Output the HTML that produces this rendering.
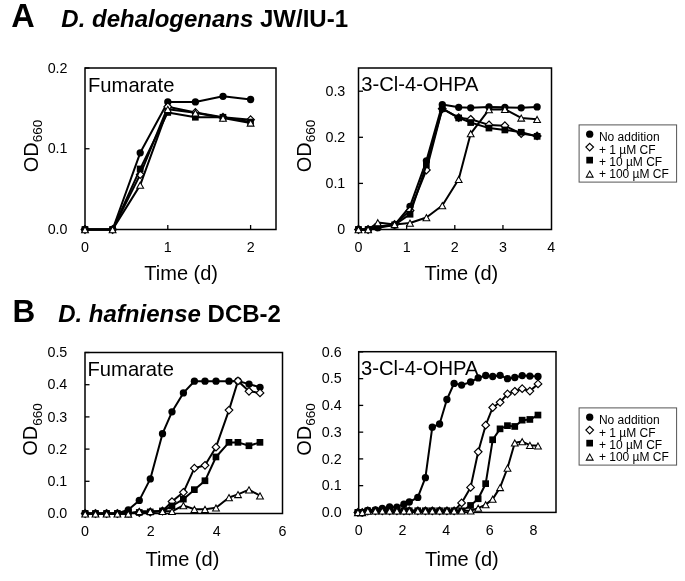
<!DOCTYPE html>
<html><head><meta charset="utf-8"><style>
html,body{margin:0;padding:0;background:#fff;width:685px;height:581px;overflow:hidden}
svg{display:block;will-change:transform}
text{font-family:"Liberation Sans", sans-serif}
</style></head><body>
<svg width="685" height="581" viewBox="0 0 685 581" font-family='"Liberation Sans", sans-serif' fill="#000"><rect width="685" height="581" fill="#fff"/><text x="11.2" y="26.6" font-size="32.5" text-anchor="start" font-weight="bold" font-style="normal" >A</text><text x="61.3" y="26.8" font-size="24.0" font-weight="bold"><tspan font-style="italic">D. dehalogenans</tspan> JW/IU-1</text><text x="12.5" y="322.3" font-size="31.5" text-anchor="start" font-weight="bold" font-style="normal" >B</text><text x="58.2" y="322.4" font-size="24.0" font-weight="bold"><tspan font-style="italic">D. hafniense</tspan> DCB-2</text><rect x="85" y="68" width="191" height="161.5" fill="none" stroke="#000" stroke-width="1.5"/><line x1="85" y1="229.5" x2="89.5" y2="229.5" stroke="#000" stroke-width="1.3"/><text transform="translate(67.5,234.2) scale(1,1.04)" font-size="14.3" text-anchor="end">0.0</text><line x1="85" y1="148.75" x2="89.5" y2="148.75" stroke="#000" stroke-width="1.3"/><text transform="translate(67.5,153.4) scale(1,1.04)" font-size="14.3" text-anchor="end">0.1</text><line x1="85" y1="68.0" x2="89.5" y2="68.0" stroke="#000" stroke-width="1.3"/><text transform="translate(67.5,72.7) scale(1,1.04)" font-size="14.3" text-anchor="end">0.2</text><line x1="85.0" y1="229.5" x2="85.0" y2="225.0" stroke="#000" stroke-width="1.3"/><text transform="translate(85.0,251.5) scale(1,1.04)" font-size="14.3" text-anchor="middle">0</text><line x1="167.8" y1="229.5" x2="167.8" y2="225.0" stroke="#000" stroke-width="1.3"/><text transform="translate(167.8,251.5) scale(1,1.04)" font-size="14.3" text-anchor="middle">1</text><line x1="250.6" y1="229.5" x2="250.6" y2="225.0" stroke="#000" stroke-width="1.3"/><text transform="translate(250.6,251.5) scale(1,1.04)" font-size="14.3" text-anchor="middle">2</text><text x="88" y="91.5" font-size="20.2" text-anchor="start" font-weight="normal" font-style="normal" >Fumarate</text><g transform="translate(37.5,146) rotate(-90)"><text x="0" y="0" font-size="20" text-anchor="middle">OD<tspan font-size="13.6" dy="4.7">660</tspan></text></g><text x="144.3" y="279.5" font-size="20" text-anchor="start" font-weight="normal" font-style="normal" >Time (d)</text><polyline points="85.0,229.5 112.6,229.5 140.2,152.8 167.8,101.9 195.4,101.9 223.0,96.3 250.6,99.5" fill="none" stroke="#000" stroke-width="2.0" stroke-linejoin="round"/><circle cx="85.0" cy="229.5" r="3.65" fill="#000"/><circle cx="112.6" cy="229.5" r="3.65" fill="#000"/><circle cx="140.2" cy="152.8" r="3.65" fill="#000"/><circle cx="167.8" cy="101.9" r="3.65" fill="#000"/><circle cx="195.4" cy="101.9" r="3.65" fill="#000"/><circle cx="223.0" cy="96.3" r="3.65" fill="#000"/><circle cx="250.6" cy="99.5" r="3.65" fill="#000"/><polyline points="85.0,229.5 112.6,229.5 140.2,174.6 167.8,106.8 195.4,112.4 223.0,117.3 250.6,119.7" fill="none" stroke="#000" stroke-width="2.0" stroke-linejoin="round"/><path d="M85.0 225.7L88.8 229.5L85.0 233.3L81.2 229.5Z" fill="#fff" stroke="#000" stroke-width="1.2"/><path d="M112.6 225.7L116.4 229.5L112.6 233.3L108.8 229.5Z" fill="#fff" stroke="#000" stroke-width="1.2"/><path d="M140.2 170.8L144.0 174.6L140.2 178.4L136.4 174.6Z" fill="#fff" stroke="#000" stroke-width="1.2"/><path d="M167.8 102.9L171.6 106.8L167.8 110.6L164.0 106.8Z" fill="#fff" stroke="#000" stroke-width="1.2"/><path d="M195.4 108.6L199.2 112.4L195.4 116.2L191.6 112.4Z" fill="#fff" stroke="#000" stroke-width="1.2"/><path d="M223.0 113.4L226.8 117.3L223.0 121.1L219.2 117.3Z" fill="#fff" stroke="#000" stroke-width="1.2"/><path d="M250.6 115.8L254.4 119.7L250.6 123.5L246.8 119.7Z" fill="#fff" stroke="#000" stroke-width="1.2"/><polyline points="85.0,229.5 112.6,229.5 140.2,168.9 167.8,112.4 195.4,117.3 223.0,117.3 250.6,122.1" fill="none" stroke="#000" stroke-width="2.0" stroke-linejoin="round"/><rect x="81.6" y="226.1" width="6.7" height="6.7" fill="#000"/><rect x="109.2" y="226.1" width="6.7" height="6.7" fill="#000"/><rect x="136.8" y="165.6" width="6.7" height="6.7" fill="#000"/><rect x="164.4" y="109.1" width="6.7" height="6.7" fill="#000"/><rect x="192.0" y="113.9" width="6.7" height="6.7" fill="#000"/><rect x="219.6" y="113.9" width="6.7" height="6.7" fill="#000"/><rect x="247.2" y="118.7" width="6.7" height="6.7" fill="#000"/><polyline points="85.0,229.5 112.6,229.5 140.2,185.1 167.8,109.2 195.4,112.8 223.0,118.1 250.6,122.9" fill="none" stroke="#000" stroke-width="2.0" stroke-linejoin="round"/><path d="M85.0 226.6L88.4 232.7L81.6 232.7Z" fill="#fff" stroke="#000" stroke-width="1.05" stroke-linejoin="miter"/><path d="M112.6 226.6L116.0 232.7L109.2 232.7Z" fill="#fff" stroke="#000" stroke-width="1.05" stroke-linejoin="miter"/><path d="M140.2 182.2L143.6 188.3L136.8 188.3Z" fill="#fff" stroke="#000" stroke-width="1.05" stroke-linejoin="miter"/><path d="M167.8 106.3L171.2 112.4L164.4 112.4Z" fill="#fff" stroke="#000" stroke-width="1.05" stroke-linejoin="miter"/><path d="M195.4 109.9L198.8 116.0L192.0 116.0Z" fill="#fff" stroke="#000" stroke-width="1.05" stroke-linejoin="miter"/><path d="M223.0 115.2L226.4 121.3L219.6 121.3Z" fill="#fff" stroke="#000" stroke-width="1.05" stroke-linejoin="miter"/><path d="M250.6 120.0L254.0 126.1L247.2 126.1Z" fill="#fff" stroke="#000" stroke-width="1.05" stroke-linejoin="miter"/><rect x="358.5" y="68" width="193.0" height="161.5" fill="none" stroke="#000" stroke-width="1.5"/><line x1="358.5" y1="229.5" x2="363.0" y2="229.5" stroke="#000" stroke-width="1.3"/><text transform="translate(345.3,234.2) scale(1,1.04)" font-size="14.3" text-anchor="end">0</text><line x1="358.5" y1="183.4" x2="363.0" y2="183.4" stroke="#000" stroke-width="1.3"/><text transform="translate(345.3,188.1) scale(1,1.04)" font-size="14.3" text-anchor="end">0.1</text><line x1="358.5" y1="137.3" x2="363.0" y2="137.3" stroke="#000" stroke-width="1.3"/><text transform="translate(345.3,142.0) scale(1,1.04)" font-size="14.3" text-anchor="end">0.2</text><line x1="358.5" y1="91.20000000000002" x2="363.0" y2="91.20000000000002" stroke="#000" stroke-width="1.3"/><text transform="translate(345.3,95.9) scale(1,1.04)" font-size="14.3" text-anchor="end">0.3</text><line x1="358.5" y1="229.5" x2="358.5" y2="225.0" stroke="#000" stroke-width="1.3"/><text transform="translate(358.5,251.8) scale(1,1.04)" font-size="14.3" text-anchor="middle">0</text><line x1="406.65" y1="229.5" x2="406.65" y2="225.0" stroke="#000" stroke-width="1.3"/><text transform="translate(406.6,251.8) scale(1,1.04)" font-size="14.3" text-anchor="middle">1</text><line x1="454.8" y1="229.5" x2="454.8" y2="225.0" stroke="#000" stroke-width="1.3"/><text transform="translate(454.8,251.8) scale(1,1.04)" font-size="14.3" text-anchor="middle">2</text><line x1="502.95" y1="229.5" x2="502.95" y2="225.0" stroke="#000" stroke-width="1.3"/><text transform="translate(502.9,251.8) scale(1,1.04)" font-size="14.3" text-anchor="middle">3</text><text transform="translate(551.1,251.8) scale(1,1.04)" font-size="14.3" text-anchor="middle">4</text><text x="361.2" y="91.4" font-size="20.2" text-anchor="start" font-weight="normal" font-style="normal" >3-Cl-4-OHPA</text><g transform="translate(310.7,146) rotate(-90)"><text x="0" y="0" font-size="20" text-anchor="middle">OD<tspan font-size="13.6" dy="4.7">660</tspan></text></g><text x="424.5" y="279.5" font-size="20" text-anchor="start" font-weight="normal" font-style="normal" >Time (d)</text><polyline points="358.5,229.5 368.1,229.5 377.8,227.7 394.6,224.9 410.0,206.4 426.4,160.8 442.3,104.6 458.7,107.3 470.7,107.8 489.0,106.9 504.9,107.3 521.2,107.8 537.1,106.9" fill="none" stroke="#000" stroke-width="2.0" stroke-linejoin="round"/><circle cx="358.5" cy="229.5" r="3.65" fill="#000"/><circle cx="368.1" cy="229.5" r="3.65" fill="#000"/><circle cx="377.8" cy="227.7" r="3.65" fill="#000"/><circle cx="394.6" cy="224.9" r="3.65" fill="#000"/><circle cx="410.0" cy="206.4" r="3.65" fill="#000"/><circle cx="426.4" cy="160.8" r="3.65" fill="#000"/><circle cx="442.3" cy="104.6" r="3.65" fill="#000"/><circle cx="458.7" cy="107.3" r="3.65" fill="#000"/><circle cx="470.7" cy="107.8" r="3.65" fill="#000"/><circle cx="489.0" cy="106.9" r="3.65" fill="#000"/><circle cx="504.9" cy="107.3" r="3.65" fill="#000"/><circle cx="521.2" cy="107.8" r="3.65" fill="#000"/><circle cx="537.1" cy="106.9" r="3.65" fill="#000"/><polyline points="358.5,229.5 368.1,229.5 377.8,226.7 394.6,224.4 410.0,210.6 426.4,170.0 442.3,108.7 458.7,117.7 470.7,119.3 489.0,124.9 504.9,125.8 521.2,133.6 537.1,135.9" fill="none" stroke="#000" stroke-width="2.0" stroke-linejoin="round"/><path d="M358.5 225.7L362.3 229.5L358.5 233.3L354.7 229.5Z" fill="#fff" stroke="#000" stroke-width="1.2"/><path d="M368.1 225.7L372.0 229.5L368.1 233.3L364.3 229.5Z" fill="#fff" stroke="#000" stroke-width="1.2"/><path d="M377.8 222.9L381.6 226.7L377.8 230.6L373.9 226.7Z" fill="#fff" stroke="#000" stroke-width="1.2"/><path d="M394.6 220.6L398.4 224.4L394.6 228.3L390.8 224.4Z" fill="#fff" stroke="#000" stroke-width="1.2"/><path d="M410.0 206.8L413.9 210.6L410.0 214.4L406.2 210.6Z" fill="#fff" stroke="#000" stroke-width="1.2"/><path d="M426.4 166.2L430.2 170.0L426.4 173.9L422.6 170.0Z" fill="#fff" stroke="#000" stroke-width="1.2"/><path d="M442.3 104.9L446.1 108.7L442.3 112.6L438.4 108.7Z" fill="#fff" stroke="#000" stroke-width="1.2"/><path d="M458.7 113.9L462.5 117.7L458.7 121.5L454.8 117.7Z" fill="#fff" stroke="#000" stroke-width="1.2"/><path d="M470.7 115.5L474.5 119.3L470.7 123.2L466.9 119.3Z" fill="#fff" stroke="#000" stroke-width="1.2"/><path d="M489.0 121.0L492.8 124.9L489.0 128.7L485.2 124.9Z" fill="#fff" stroke="#000" stroke-width="1.2"/><path d="M504.9 121.9L508.7 125.8L504.9 129.6L501.0 125.8Z" fill="#fff" stroke="#000" stroke-width="1.2"/><path d="M521.2 129.8L525.1 133.6L521.2 137.4L517.4 133.6Z" fill="#fff" stroke="#000" stroke-width="1.2"/><path d="M537.1 132.1L541.0 135.9L537.1 139.7L533.3 135.9Z" fill="#fff" stroke="#000" stroke-width="1.2"/><polyline points="358.5,229.5 368.1,229.5 377.8,226.7 394.6,224.9 410.0,214.3 426.4,165.0 442.3,108.7 458.7,117.9 470.7,122.5 489.0,128.1 504.9,129.9 521.2,132.2 537.1,136.4" fill="none" stroke="#000" stroke-width="2.0" stroke-linejoin="round"/><rect x="355.1" y="226.1" width="6.7" height="6.7" fill="#000"/><rect x="364.8" y="226.1" width="6.7" height="6.7" fill="#000"/><rect x="374.4" y="223.4" width="6.7" height="6.7" fill="#000"/><rect x="391.3" y="221.5" width="6.7" height="6.7" fill="#000"/><rect x="406.7" y="210.9" width="6.7" height="6.7" fill="#000"/><rect x="423.0" y="161.6" width="6.7" height="6.7" fill="#000"/><rect x="438.9" y="105.4" width="6.7" height="6.7" fill="#000"/><rect x="455.3" y="114.6" width="6.7" height="6.7" fill="#000"/><rect x="467.3" y="119.2" width="6.7" height="6.7" fill="#000"/><rect x="485.6" y="124.7" width="6.7" height="6.7" fill="#000"/><rect x="501.5" y="126.6" width="6.7" height="6.7" fill="#000"/><rect x="517.9" y="128.9" width="6.7" height="6.7" fill="#000"/><rect x="533.8" y="133.0" width="6.7" height="6.7" fill="#000"/><polyline points="358.5,229.5 368.1,229.5 377.8,222.6 394.6,224.4 410.0,223.0 426.4,217.5 442.3,205.5 458.7,179.3 470.7,133.6 489.0,109.6 504.9,109.2 521.2,117.9 537.1,119.3" fill="none" stroke="#000" stroke-width="2.0" stroke-linejoin="round"/><path d="M358.5 226.6L361.9 232.7L355.1 232.7Z" fill="#fff" stroke="#000" stroke-width="1.05" stroke-linejoin="miter"/><path d="M368.1 226.6L371.5 232.7L364.7 232.7Z" fill="#fff" stroke="#000" stroke-width="1.05" stroke-linejoin="miter"/><path d="M377.8 219.7L381.2 225.8L374.4 225.8Z" fill="#fff" stroke="#000" stroke-width="1.05" stroke-linejoin="miter"/><path d="M394.6 221.5L398.0 227.6L391.2 227.6Z" fill="#fff" stroke="#000" stroke-width="1.05" stroke-linejoin="miter"/><path d="M410.0 220.1L413.4 226.2L406.6 226.2Z" fill="#fff" stroke="#000" stroke-width="1.05" stroke-linejoin="miter"/><path d="M426.4 214.6L429.8 220.7L423.0 220.7Z" fill="#fff" stroke="#000" stroke-width="1.05" stroke-linejoin="miter"/><path d="M442.3 202.6L445.7 208.7L438.9 208.7Z" fill="#fff" stroke="#000" stroke-width="1.05" stroke-linejoin="miter"/><path d="M458.7 176.4L462.1 182.5L455.3 182.5Z" fill="#fff" stroke="#000" stroke-width="1.05" stroke-linejoin="miter"/><path d="M470.7 130.7L474.1 136.8L467.3 136.8Z" fill="#fff" stroke="#000" stroke-width="1.05" stroke-linejoin="miter"/><path d="M489.0 106.7L492.4 112.8L485.6 112.8Z" fill="#fff" stroke="#000" stroke-width="1.05" stroke-linejoin="miter"/><path d="M504.9 106.3L508.3 112.4L501.5 112.4Z" fill="#fff" stroke="#000" stroke-width="1.05" stroke-linejoin="miter"/><path d="M521.2 115.0L524.6 121.1L517.8 121.1Z" fill="#fff" stroke="#000" stroke-width="1.05" stroke-linejoin="miter"/><path d="M537.1 116.4L540.5 122.5L533.7 122.5Z" fill="#fff" stroke="#000" stroke-width="1.05" stroke-linejoin="miter"/><rect x="85" y="352.5" width="197.5" height="161.0" fill="none" stroke="#000" stroke-width="1.5"/><line x1="85" y1="513.5" x2="89.5" y2="513.5" stroke="#000" stroke-width="1.3"/><text transform="translate(67.3,518.2) scale(1,1.04)" font-size="14.3" text-anchor="end">0.0</text><line x1="85" y1="481.3" x2="89.5" y2="481.3" stroke="#000" stroke-width="1.3"/><text transform="translate(67.3,486.0) scale(1,1.04)" font-size="14.3" text-anchor="end">0.1</text><line x1="85" y1="449.1" x2="89.5" y2="449.1" stroke="#000" stroke-width="1.3"/><text transform="translate(67.3,453.8) scale(1,1.04)" font-size="14.3" text-anchor="end">0.2</text><line x1="85" y1="416.9" x2="89.5" y2="416.9" stroke="#000" stroke-width="1.3"/><text transform="translate(67.3,421.6) scale(1,1.04)" font-size="14.3" text-anchor="end">0.3</text><line x1="85" y1="384.7" x2="89.5" y2="384.7" stroke="#000" stroke-width="1.3"/><text transform="translate(67.3,389.4) scale(1,1.04)" font-size="14.3" text-anchor="end">0.4</text><line x1="85" y1="352.5" x2="89.5" y2="352.5" stroke="#000" stroke-width="1.3"/><text transform="translate(67.3,357.2) scale(1,1.04)" font-size="14.3" text-anchor="end">0.5</text><text transform="translate(85.0,536.2) scale(1,1.04)" font-size="14.3" text-anchor="middle">0</text><text transform="translate(150.8,536.2) scale(1,1.04)" font-size="14.3" text-anchor="middle">2</text><text transform="translate(216.6,536.2) scale(1,1.04)" font-size="14.3" text-anchor="middle">4</text><text transform="translate(282.4,536.2) scale(1,1.04)" font-size="14.3" text-anchor="middle">6</text><text x="87.5" y="375.8" font-size="20.2" text-anchor="start" font-weight="normal" font-style="normal" >Fumarate</text><g transform="translate(36.8,429.5) rotate(-90)"><text x="0" y="0" font-size="20" text-anchor="middle">OD<tspan font-size="13.6" dy="4.7">660</tspan></text></g><text x="145.6" y="565.8" font-size="20" text-anchor="start" font-weight="normal" font-style="normal" >Time (d)</text><polyline points="85.2,513.5 95.5,513.5 106.6,513.5 117.4,513.5 128.3,509.8 139.3,500.4 150.3,478.9 162.5,433.7 172.0,411.8 183.4,392.9 194.4,381.2 205.0,381.2 216.0,381.2 229.0,381.2 238.0,381.0 249.0,384.1 260.0,387.3" fill="none" stroke="#000" stroke-width="2.0" stroke-linejoin="round"/><circle cx="85.2" cy="513.5" r="3.65" fill="#000"/><circle cx="95.5" cy="513.5" r="3.65" fill="#000"/><circle cx="106.6" cy="513.5" r="3.65" fill="#000"/><circle cx="117.4" cy="513.5" r="3.65" fill="#000"/><circle cx="128.3" cy="509.8" r="3.65" fill="#000"/><circle cx="139.3" cy="500.4" r="3.65" fill="#000"/><circle cx="150.3" cy="478.9" r="3.65" fill="#000"/><circle cx="162.5" cy="433.7" r="3.65" fill="#000"/><circle cx="172.0" cy="411.8" r="3.65" fill="#000"/><circle cx="183.4" cy="392.9" r="3.65" fill="#000"/><circle cx="194.4" cy="381.2" r="3.65" fill="#000"/><circle cx="205.0" cy="381.2" r="3.65" fill="#000"/><circle cx="216.0" cy="381.2" r="3.65" fill="#000"/><circle cx="229.0" cy="381.2" r="3.65" fill="#000"/><circle cx="238.0" cy="381.0" r="3.65" fill="#000"/><circle cx="249.0" cy="384.1" r="3.65" fill="#000"/><circle cx="260.0" cy="387.3" r="3.65" fill="#000"/><polyline points="85.2,513.5 95.5,513.5 106.6,513.5 117.4,513.5 128.3,513.0 139.3,512.5 150.3,512.0 162.5,511.0 172.0,501.6 183.4,492.3 194.4,468.2 205.0,465.3 216.0,447.2 229.0,410.1 238.0,380.9 249.0,391.3 260.0,392.9" fill="none" stroke="#000" stroke-width="2.0" stroke-linejoin="round"/><path d="M85.2 509.7L89.0 513.5L85.2 517.3L81.4 513.5Z" fill="#fff" stroke="#000" stroke-width="1.2"/><path d="M95.5 509.7L99.3 513.5L95.5 517.3L91.7 513.5Z" fill="#fff" stroke="#000" stroke-width="1.2"/><path d="M106.6 509.7L110.4 513.5L106.6 517.3L102.8 513.5Z" fill="#fff" stroke="#000" stroke-width="1.2"/><path d="M117.4 509.7L121.2 513.5L117.4 517.3L113.6 513.5Z" fill="#fff" stroke="#000" stroke-width="1.2"/><path d="M128.3 509.2L132.1 513.0L128.3 516.8L124.5 513.0Z" fill="#fff" stroke="#000" stroke-width="1.2"/><path d="M139.3 508.7L143.1 512.5L139.3 516.3L135.5 512.5Z" fill="#fff" stroke="#000" stroke-width="1.2"/><path d="M150.3 508.2L154.1 512.0L150.3 515.8L146.5 512.0Z" fill="#fff" stroke="#000" stroke-width="1.2"/><path d="M162.5 507.2L166.3 511.0L162.5 514.8L158.7 511.0Z" fill="#fff" stroke="#000" stroke-width="1.2"/><path d="M172.0 497.8L175.8 501.6L172.0 505.4L168.2 501.6Z" fill="#fff" stroke="#000" stroke-width="1.2"/><path d="M183.4 488.5L187.2 492.3L183.4 496.1L179.6 492.3Z" fill="#fff" stroke="#000" stroke-width="1.2"/><path d="M194.4 464.4L198.2 468.2L194.4 472.0L190.6 468.2Z" fill="#fff" stroke="#000" stroke-width="1.2"/><path d="M205.0 461.5L208.8 465.3L205.0 469.1L201.2 465.3Z" fill="#fff" stroke="#000" stroke-width="1.2"/><path d="M216.0 443.4L219.8 447.2L216.0 451.0L212.2 447.2Z" fill="#fff" stroke="#000" stroke-width="1.2"/><path d="M229.0 406.3L232.8 410.1L229.0 413.9L225.2 410.1Z" fill="#fff" stroke="#000" stroke-width="1.2"/><path d="M238.0 377.1L241.8 380.9L238.0 384.7L234.2 380.9Z" fill="#fff" stroke="#000" stroke-width="1.2"/><path d="M249.0 387.5L252.8 391.3L249.0 395.1L245.2 391.3Z" fill="#fff" stroke="#000" stroke-width="1.2"/><path d="M260.0 389.1L263.8 392.9L260.0 396.7L256.2 392.9Z" fill="#fff" stroke="#000" stroke-width="1.2"/><polyline points="85.2,513.5 95.5,513.5 106.6,513.5 117.4,513.5 128.3,513.0 139.3,512.5 150.3,512.0 162.5,511.0 172.0,506.0 183.4,499.2 194.4,489.7 205.0,480.8 216.0,457.0 229.0,442.4 238.0,442.4 249.0,445.8 260.0,442.4" fill="none" stroke="#000" stroke-width="2.0" stroke-linejoin="round"/><rect x="81.8" y="510.1" width="6.7" height="6.7" fill="#000"/><rect x="92.1" y="510.1" width="6.7" height="6.7" fill="#000"/><rect x="103.2" y="510.1" width="6.7" height="6.7" fill="#000"/><rect x="114.0" y="510.1" width="6.7" height="6.7" fill="#000"/><rect x="124.9" y="509.6" width="6.7" height="6.7" fill="#000"/><rect x="135.9" y="509.1" width="6.7" height="6.7" fill="#000"/><rect x="146.9" y="508.6" width="6.7" height="6.7" fill="#000"/><rect x="159.1" y="507.6" width="6.7" height="6.7" fill="#000"/><rect x="168.6" y="502.6" width="6.7" height="6.7" fill="#000"/><rect x="180.0" y="495.8" width="6.7" height="6.7" fill="#000"/><rect x="191.0" y="486.3" width="6.7" height="6.7" fill="#000"/><rect x="201.6" y="477.4" width="6.7" height="6.7" fill="#000"/><rect x="212.6" y="453.6" width="6.7" height="6.7" fill="#000"/><rect x="225.6" y="439.0" width="6.7" height="6.7" fill="#000"/><rect x="234.6" y="439.0" width="6.7" height="6.7" fill="#000"/><rect x="245.6" y="442.4" width="6.7" height="6.7" fill="#000"/><rect x="256.6" y="439.0" width="6.7" height="6.7" fill="#000"/><polyline points="85.2,513.8 95.5,513.8 106.6,513.8 117.4,513.8 128.3,513.9 139.3,511.3 150.3,511.3 162.5,511.3 172.0,511.3 183.4,505.5 194.4,509.2 205.0,509.2 216.0,507.8 229.0,497.5 238.0,494.4 249.0,489.7 260.0,495.7" fill="none" stroke="#000" stroke-width="2.0" stroke-linejoin="round"/><path d="M85.2 510.9L88.6 517.0L81.8 517.0Z" fill="#fff" stroke="#000" stroke-width="1.05" stroke-linejoin="miter"/><path d="M95.5 510.9L98.9 517.0L92.1 517.0Z" fill="#fff" stroke="#000" stroke-width="1.05" stroke-linejoin="miter"/><path d="M106.6 510.9L110.0 517.0L103.2 517.0Z" fill="#fff" stroke="#000" stroke-width="1.05" stroke-linejoin="miter"/><path d="M117.4 510.9L120.8 517.0L114.0 517.0Z" fill="#fff" stroke="#000" stroke-width="1.05" stroke-linejoin="miter"/><path d="M128.3 511.0L131.7 517.1L124.9 517.1Z" fill="#fff" stroke="#000" stroke-width="1.05" stroke-linejoin="miter"/><path d="M139.3 508.4L142.7 514.5L135.9 514.5Z" fill="#fff" stroke="#000" stroke-width="1.05" stroke-linejoin="miter"/><path d="M150.3 508.4L153.7 514.5L146.9 514.5Z" fill="#fff" stroke="#000" stroke-width="1.05" stroke-linejoin="miter"/><path d="M162.5 508.4L165.9 514.5L159.1 514.5Z" fill="#fff" stroke="#000" stroke-width="1.05" stroke-linejoin="miter"/><path d="M172.0 508.4L175.4 514.5L168.6 514.5Z" fill="#fff" stroke="#000" stroke-width="1.05" stroke-linejoin="miter"/><path d="M183.4 502.6L186.8 508.7L180.0 508.7Z" fill="#fff" stroke="#000" stroke-width="1.05" stroke-linejoin="miter"/><path d="M194.4 506.3L197.8 512.4L191.0 512.4Z" fill="#fff" stroke="#000" stroke-width="1.05" stroke-linejoin="miter"/><path d="M205.0 506.3L208.4 512.4L201.6 512.4Z" fill="#fff" stroke="#000" stroke-width="1.05" stroke-linejoin="miter"/><path d="M216.0 504.9L219.4 511.0L212.6 511.0Z" fill="#fff" stroke="#000" stroke-width="1.05" stroke-linejoin="miter"/><path d="M229.0 494.6L232.4 500.7L225.6 500.7Z" fill="#fff" stroke="#000" stroke-width="1.05" stroke-linejoin="miter"/><path d="M238.0 491.5L241.4 497.6L234.6 497.6Z" fill="#fff" stroke="#000" stroke-width="1.05" stroke-linejoin="miter"/><path d="M249.0 486.8L252.4 492.9L245.6 492.9Z" fill="#fff" stroke="#000" stroke-width="1.05" stroke-linejoin="miter"/><path d="M260.0 492.8L263.4 498.9L256.6 498.9Z" fill="#fff" stroke="#000" stroke-width="1.05" stroke-linejoin="miter"/><rect x="358.7" y="351.7" width="197.3" height="160.7" fill="none" stroke="#000" stroke-width="1.5"/><line x1="358.7" y1="512.4" x2="363.2" y2="512.4" stroke="#000" stroke-width="1.3"/><text transform="translate(341.6,517.1) scale(1,1.04)" font-size="14.3" text-anchor="end">0.0</text><line x1="358.7" y1="485.65" x2="363.2" y2="485.65" stroke="#000" stroke-width="1.3"/><text transform="translate(341.6,490.3) scale(1,1.04)" font-size="14.3" text-anchor="end">0.1</text><line x1="358.7" y1="458.9" x2="363.2" y2="458.9" stroke="#000" stroke-width="1.3"/><text transform="translate(341.6,463.6) scale(1,1.04)" font-size="14.3" text-anchor="end">0.2</text><line x1="358.7" y1="432.15" x2="363.2" y2="432.15" stroke="#000" stroke-width="1.3"/><text transform="translate(341.6,436.8) scale(1,1.04)" font-size="14.3" text-anchor="end">0.3</text><line x1="358.7" y1="405.4" x2="363.2" y2="405.4" stroke="#000" stroke-width="1.3"/><text transform="translate(341.6,410.1) scale(1,1.04)" font-size="14.3" text-anchor="end">0.4</text><line x1="358.7" y1="378.65" x2="363.2" y2="378.65" stroke="#000" stroke-width="1.3"/><text transform="translate(341.6,383.3) scale(1,1.04)" font-size="14.3" text-anchor="end">0.5</text><line x1="358.7" y1="351.9" x2="363.2" y2="351.9" stroke="#000" stroke-width="1.3"/><text transform="translate(341.6,356.6) scale(1,1.04)" font-size="14.3" text-anchor="end">0.6</text><text transform="translate(358.7,534.8) scale(1,1.04)" font-size="14.3" text-anchor="middle">0</text><text transform="translate(402.4,534.8) scale(1,1.04)" font-size="14.3" text-anchor="middle">2</text><text transform="translate(446.1,534.8) scale(1,1.04)" font-size="14.3" text-anchor="middle">4</text><text transform="translate(489.8,534.8) scale(1,1.04)" font-size="14.3" text-anchor="middle">6</text><text transform="translate(533.5,534.8) scale(1,1.04)" font-size="14.3" text-anchor="middle">8</text><text x="361.1" y="375.1" font-size="20.2" text-anchor="start" font-weight="normal" font-style="normal" >3-Cl-4-OHPA</text><g transform="translate(310.7,429.5) rotate(-90)"><text x="0" y="0" font-size="20" text-anchor="middle">OD<tspan font-size="13.6" dy="4.7">660</tspan></text></g><text x="425" y="565.8" font-size="20" text-anchor="start" font-weight="normal" font-style="normal" >Time (d)</text><polyline points="357.9,512.3 362.3,512.8 367.8,510.4 375.4,509.8 382.3,508.3 389.6,506.9 396.9,507.2 403.9,504.2 409.3,502.0 417.8,497.4 425.4,477.7 432.3,427.2 439.6,424.0 446.9,399.5 454.1,383.4 461.6,385.1 470.6,382.0 478.2,377.9 485.7,375.5 492.7,376.5 500.1,375.3 507.5,378.7 514.8,377.5 522.2,375.6 529.9,376.1 538.0,376.5" fill="none" stroke="#000" stroke-width="2.0" stroke-linejoin="round"/><circle cx="357.9" cy="512.3" r="3.65" fill="#000"/><circle cx="362.3" cy="512.8" r="3.65" fill="#000"/><circle cx="367.8" cy="510.4" r="3.65" fill="#000"/><circle cx="375.4" cy="509.8" r="3.65" fill="#000"/><circle cx="382.3" cy="508.3" r="3.65" fill="#000"/><circle cx="389.6" cy="506.9" r="3.65" fill="#000"/><circle cx="396.9" cy="507.2" r="3.65" fill="#000"/><circle cx="403.9" cy="504.2" r="3.65" fill="#000"/><circle cx="409.3" cy="502.0" r="3.65" fill="#000"/><circle cx="417.8" cy="497.4" r="3.65" fill="#000"/><circle cx="425.4" cy="477.7" r="3.65" fill="#000"/><circle cx="432.3" cy="427.2" r="3.65" fill="#000"/><circle cx="439.6" cy="424.0" r="3.65" fill="#000"/><circle cx="446.9" cy="399.5" r="3.65" fill="#000"/><circle cx="454.1" cy="383.4" r="3.65" fill="#000"/><circle cx="461.6" cy="385.1" r="3.65" fill="#000"/><circle cx="470.6" cy="382.0" r="3.65" fill="#000"/><circle cx="478.2" cy="377.9" r="3.65" fill="#000"/><circle cx="485.7" cy="375.5" r="3.65" fill="#000"/><circle cx="492.7" cy="376.5" r="3.65" fill="#000"/><circle cx="500.1" cy="375.3" r="3.65" fill="#000"/><circle cx="507.5" cy="378.7" r="3.65" fill="#000"/><circle cx="514.8" cy="377.5" r="3.65" fill="#000"/><circle cx="522.2" cy="375.6" r="3.65" fill="#000"/><circle cx="529.9" cy="376.1" r="3.65" fill="#000"/><circle cx="538.0" cy="376.5" r="3.65" fill="#000"/><polyline points="357.9,512.4 362.3,512.4 367.8,511.0 375.4,510.8 382.3,510.8 389.6,510.8 396.9,510.8 403.9,510.8 409.3,510.8 417.8,510.8 425.4,510.8 432.3,510.8 439.6,510.8 446.9,510.8 454.1,510.8 461.6,502.9 470.6,487.4 478.2,451.8 485.7,425.2 492.7,407.5 500.1,402.3 507.5,393.9 514.8,391.3 522.2,388.7 529.9,391.1 538.0,383.9" fill="none" stroke="#000" stroke-width="2.0" stroke-linejoin="round"/><path d="M357.9 508.6L361.7 512.4L357.9 516.2L354.1 512.4Z" fill="#fff" stroke="#000" stroke-width="1.2"/><path d="M362.3 508.6L366.1 512.4L362.3 516.2L358.5 512.4Z" fill="#fff" stroke="#000" stroke-width="1.2"/><path d="M367.8 507.2L371.6 511.0L367.8 514.8L364.0 511.0Z" fill="#fff" stroke="#000" stroke-width="1.2"/><path d="M375.4 507.0L379.2 510.8L375.4 514.6L371.6 510.8Z" fill="#fff" stroke="#000" stroke-width="1.2"/><path d="M382.3 507.0L386.1 510.8L382.3 514.6L378.5 510.8Z" fill="#fff" stroke="#000" stroke-width="1.2"/><path d="M389.6 507.0L393.4 510.8L389.6 514.6L385.8 510.8Z" fill="#fff" stroke="#000" stroke-width="1.2"/><path d="M396.9 507.0L400.7 510.8L396.9 514.6L393.1 510.8Z" fill="#fff" stroke="#000" stroke-width="1.2"/><path d="M403.9 507.0L407.7 510.8L403.9 514.6L400.1 510.8Z" fill="#fff" stroke="#000" stroke-width="1.2"/><path d="M409.3 507.0L413.1 510.8L409.3 514.6L405.5 510.8Z" fill="#fff" stroke="#000" stroke-width="1.2"/><path d="M417.8 507.0L421.6 510.8L417.8 514.6L414.0 510.8Z" fill="#fff" stroke="#000" stroke-width="1.2"/><path d="M425.4 507.0L429.2 510.8L425.4 514.6L421.6 510.8Z" fill="#fff" stroke="#000" stroke-width="1.2"/><path d="M432.3 507.0L436.1 510.8L432.3 514.6L428.5 510.8Z" fill="#fff" stroke="#000" stroke-width="1.2"/><path d="M439.6 507.0L443.4 510.8L439.6 514.6L435.8 510.8Z" fill="#fff" stroke="#000" stroke-width="1.2"/><path d="M446.9 507.0L450.7 510.8L446.9 514.6L443.1 510.8Z" fill="#fff" stroke="#000" stroke-width="1.2"/><path d="M454.1 507.0L457.9 510.8L454.1 514.6L450.3 510.8Z" fill="#fff" stroke="#000" stroke-width="1.2"/><path d="M461.6 499.1L465.4 502.9L461.6 506.7L457.8 502.9Z" fill="#fff" stroke="#000" stroke-width="1.2"/><path d="M470.6 483.6L474.4 487.4L470.6 491.2L466.8 487.4Z" fill="#fff" stroke="#000" stroke-width="1.2"/><path d="M478.2 448.0L482.0 451.8L478.2 455.6L474.4 451.8Z" fill="#fff" stroke="#000" stroke-width="1.2"/><path d="M485.7 421.4L489.5 425.2L485.7 429.0L481.9 425.2Z" fill="#fff" stroke="#000" stroke-width="1.2"/><path d="M492.7 403.7L496.5 407.5L492.7 411.3L488.9 407.5Z" fill="#fff" stroke="#000" stroke-width="1.2"/><path d="M500.1 398.5L503.9 402.3L500.1 406.1L496.3 402.3Z" fill="#fff" stroke="#000" stroke-width="1.2"/><path d="M507.5 390.1L511.3 393.9L507.5 397.7L503.7 393.9Z" fill="#fff" stroke="#000" stroke-width="1.2"/><path d="M514.8 387.5L518.6 391.3L514.8 395.1L511.0 391.3Z" fill="#fff" stroke="#000" stroke-width="1.2"/><path d="M522.2 384.9L526.0 388.7L522.2 392.5L518.4 388.7Z" fill="#fff" stroke="#000" stroke-width="1.2"/><path d="M529.9 387.3L533.7 391.1L529.9 394.9L526.1 391.1Z" fill="#fff" stroke="#000" stroke-width="1.2"/><path d="M538.0 380.1L541.8 383.9L538.0 387.7L534.2 383.9Z" fill="#fff" stroke="#000" stroke-width="1.2"/><polyline points="357.9,512.4 362.3,512.4 367.8,511.0 375.4,510.8 382.3,510.8 389.6,510.8 396.9,510.8 403.9,510.8 409.3,510.8 417.8,510.8 425.4,510.8 432.3,510.8 439.6,510.8 446.9,510.8 454.1,510.8 461.6,510.8 470.6,505.5 478.2,498.8 485.7,483.7 492.7,439.8 500.1,428.9 507.5,425.7 514.8,426.5 522.2,420.2 529.9,419.5 538.0,415.1" fill="none" stroke="#000" stroke-width="2.0" stroke-linejoin="round"/><rect x="354.5" y="509.0" width="6.7" height="6.7" fill="#000"/><rect x="358.9" y="509.0" width="6.7" height="6.7" fill="#000"/><rect x="364.4" y="507.6" width="6.7" height="6.7" fill="#000"/><rect x="372.0" y="507.4" width="6.7" height="6.7" fill="#000"/><rect x="378.9" y="507.4" width="6.7" height="6.7" fill="#000"/><rect x="386.2" y="507.4" width="6.7" height="6.7" fill="#000"/><rect x="393.5" y="507.4" width="6.7" height="6.7" fill="#000"/><rect x="400.5" y="507.4" width="6.7" height="6.7" fill="#000"/><rect x="405.9" y="507.4" width="6.7" height="6.7" fill="#000"/><rect x="414.4" y="507.4" width="6.7" height="6.7" fill="#000"/><rect x="422.0" y="507.4" width="6.7" height="6.7" fill="#000"/><rect x="428.9" y="507.4" width="6.7" height="6.7" fill="#000"/><rect x="436.2" y="507.4" width="6.7" height="6.7" fill="#000"/><rect x="443.5" y="507.4" width="6.7" height="6.7" fill="#000"/><rect x="450.7" y="507.4" width="6.7" height="6.7" fill="#000"/><rect x="458.2" y="507.4" width="6.7" height="6.7" fill="#000"/><rect x="467.2" y="502.1" width="6.7" height="6.7" fill="#000"/><rect x="474.8" y="495.4" width="6.7" height="6.7" fill="#000"/><rect x="482.3" y="480.3" width="6.7" height="6.7" fill="#000"/><rect x="489.3" y="436.4" width="6.7" height="6.7" fill="#000"/><rect x="496.7" y="425.5" width="6.7" height="6.7" fill="#000"/><rect x="504.1" y="422.3" width="6.7" height="6.7" fill="#000"/><rect x="511.4" y="423.1" width="6.7" height="6.7" fill="#000"/><rect x="518.8" y="416.8" width="6.7" height="6.7" fill="#000"/><rect x="526.5" y="416.1" width="6.7" height="6.7" fill="#000"/><rect x="534.6" y="411.7" width="6.7" height="6.7" fill="#000"/><polyline points="357.9,512.4 362.3,512.4 367.8,511.0 375.4,510.8 382.3,510.8 389.6,510.8 396.9,510.8 403.9,510.8 409.3,510.8 417.8,510.8 425.4,510.8 432.3,510.8 439.6,510.8 446.9,510.8 454.1,510.8 461.6,510.8 470.6,510.8 478.2,508.1 485.7,504.6 492.7,499.1 500.1,487.4 507.5,468.0 514.8,442.8 522.2,441.6 529.9,445.2 538.0,445.8" fill="none" stroke="#000" stroke-width="2.0" stroke-linejoin="round"/><path d="M357.9 509.5L361.3 515.6L354.5 515.6Z" fill="#fff" stroke="#000" stroke-width="1.05" stroke-linejoin="miter"/><path d="M362.3 509.5L365.7 515.6L358.9 515.6Z" fill="#fff" stroke="#000" stroke-width="1.05" stroke-linejoin="miter"/><path d="M367.8 508.1L371.2 514.2L364.4 514.2Z" fill="#fff" stroke="#000" stroke-width="1.05" stroke-linejoin="miter"/><path d="M375.4 507.9L378.8 514.0L372.0 514.0Z" fill="#fff" stroke="#000" stroke-width="1.05" stroke-linejoin="miter"/><path d="M382.3 507.9L385.7 514.0L378.9 514.0Z" fill="#fff" stroke="#000" stroke-width="1.05" stroke-linejoin="miter"/><path d="M389.6 507.9L393.0 514.0L386.2 514.0Z" fill="#fff" stroke="#000" stroke-width="1.05" stroke-linejoin="miter"/><path d="M396.9 507.9L400.3 514.0L393.5 514.0Z" fill="#fff" stroke="#000" stroke-width="1.05" stroke-linejoin="miter"/><path d="M403.9 507.9L407.3 514.0L400.5 514.0Z" fill="#fff" stroke="#000" stroke-width="1.05" stroke-linejoin="miter"/><path d="M409.3 507.9L412.7 514.0L405.9 514.0Z" fill="#fff" stroke="#000" stroke-width="1.05" stroke-linejoin="miter"/><path d="M417.8 507.9L421.2 514.0L414.4 514.0Z" fill="#fff" stroke="#000" stroke-width="1.05" stroke-linejoin="miter"/><path d="M425.4 507.9L428.8 514.0L422.0 514.0Z" fill="#fff" stroke="#000" stroke-width="1.05" stroke-linejoin="miter"/><path d="M432.3 507.9L435.7 514.0L428.9 514.0Z" fill="#fff" stroke="#000" stroke-width="1.05" stroke-linejoin="miter"/><path d="M439.6 507.9L443.0 514.0L436.2 514.0Z" fill="#fff" stroke="#000" stroke-width="1.05" stroke-linejoin="miter"/><path d="M446.9 507.9L450.3 514.0L443.5 514.0Z" fill="#fff" stroke="#000" stroke-width="1.05" stroke-linejoin="miter"/><path d="M454.1 507.9L457.5 514.0L450.7 514.0Z" fill="#fff" stroke="#000" stroke-width="1.05" stroke-linejoin="miter"/><path d="M461.6 507.9L465.0 514.0L458.2 514.0Z" fill="#fff" stroke="#000" stroke-width="1.05" stroke-linejoin="miter"/><path d="M470.6 507.9L474.0 514.0L467.2 514.0Z" fill="#fff" stroke="#000" stroke-width="1.05" stroke-linejoin="miter"/><path d="M478.2 505.2L481.6 511.3L474.8 511.3Z" fill="#fff" stroke="#000" stroke-width="1.05" stroke-linejoin="miter"/><path d="M485.7 501.7L489.1 507.8L482.3 507.8Z" fill="#fff" stroke="#000" stroke-width="1.05" stroke-linejoin="miter"/><path d="M492.7 496.2L496.1 502.3L489.3 502.3Z" fill="#fff" stroke="#000" stroke-width="1.05" stroke-linejoin="miter"/><path d="M500.1 484.5L503.5 490.6L496.7 490.6Z" fill="#fff" stroke="#000" stroke-width="1.05" stroke-linejoin="miter"/><path d="M507.5 465.1L510.9 471.2L504.1 471.2Z" fill="#fff" stroke="#000" stroke-width="1.05" stroke-linejoin="miter"/><path d="M514.8 439.9L518.2 446.0L511.4 446.0Z" fill="#fff" stroke="#000" stroke-width="1.05" stroke-linejoin="miter"/><path d="M522.2 438.7L525.6 444.8L518.8 444.8Z" fill="#fff" stroke="#000" stroke-width="1.05" stroke-linejoin="miter"/><path d="M529.9 442.3L533.3 448.4L526.5 448.4Z" fill="#fff" stroke="#000" stroke-width="1.05" stroke-linejoin="miter"/><path d="M538.0 442.9L541.4 449.0L534.6 449.0Z" fill="#fff" stroke="#000" stroke-width="1.05" stroke-linejoin="miter"/><rect x="579.1" y="124.9" width="97.5" height="57.2" fill="#fff" stroke="#555" stroke-width="1"/><circle cx="589.7" cy="134.2" r="3.65" fill="#000"/><text x="598.9" y="141.2" font-size="12.0" text-anchor="start" font-weight="normal" font-style="normal" >No addition</text><path d="M589.7 143.3L593.5 147.1L589.7 150.9L585.9 147.1Z" fill="#fff" stroke="#000" stroke-width="1.2"/><text x="598.9" y="153.8" font-size="12.0" text-anchor="start" font-weight="normal" font-style="normal" >+ 1 µM CF</text><rect x="586.3" y="156.8" width="6.7" height="6.7" fill="#000"/><text x="598.9" y="166.1" font-size="12.0" text-anchor="start" font-weight="normal" font-style="normal" >+ 10 µM CF</text><path d="M589.7 171.0L593.1 177.1L586.3 177.1Z" fill="#fff" stroke="#000" stroke-width="1.05" stroke-linejoin="miter"/><text x="598.9" y="178.3" font-size="12.0" text-anchor="start" font-weight="normal" font-style="normal" >+ 100 µM CF</text><rect x="579.1" y="407.9" width="97.5" height="57.2" fill="#fff" stroke="#555" stroke-width="1"/><circle cx="589.7" cy="417.2" r="3.65" fill="#000"/><text x="598.9" y="424.2" font-size="12.0" text-anchor="start" font-weight="normal" font-style="normal" >No addition</text><path d="M589.7 426.3L593.5 430.1L589.7 433.9L585.9 430.1Z" fill="#fff" stroke="#000" stroke-width="1.2"/><text x="598.9" y="436.8" font-size="12.0" text-anchor="start" font-weight="normal" font-style="normal" >+ 1 µM CF</text><rect x="586.3" y="439.8" width="6.7" height="6.7" fill="#000"/><text x="598.9" y="449.1" font-size="12.0" text-anchor="start" font-weight="normal" font-style="normal" >+ 10 µM CF</text><path d="M589.7 454.0L593.1 460.1L586.3 460.1Z" fill="#fff" stroke="#000" stroke-width="1.05" stroke-linejoin="miter"/><text x="598.9" y="461.3" font-size="12.0" text-anchor="start" font-weight="normal" font-style="normal" >+ 100 µM CF</text></svg>
</body></html>
